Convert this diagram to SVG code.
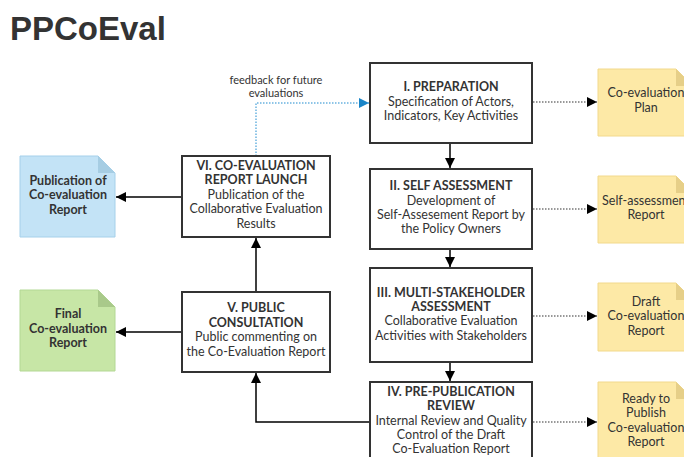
<svg xmlns="http://www.w3.org/2000/svg" width="684" height="457" viewBox="0 0 684 457">
<style>
.box{fill:#fff;stroke:#333;stroke-width:2}
.t{font-family:Lato,"Liberation Sans",sans-serif;font-size:12.5px;fill:#333;text-anchor:middle}
.b{font-weight:bold}
.ln{stroke:#000;stroke-width:1.5;fill:none}
.dt{stroke:#333;stroke-width:1.2;fill:none;stroke-dasharray:1.5 1.5}
.fb{stroke:#69b3e0;stroke-width:1.5;fill:none;stroke-dasharray:1.5 1.5}
.yd{fill:#fde9a6;stroke:#f2d98c;stroke-width:1}
.yf{fill:#e6cf88}
</style>
<defs>
<marker id="ah" viewBox="0 0 10 10" refX="10" refY="5" markerWidth="10" markerHeight="10" markerUnits="userSpaceOnUse" orient="auto"><path d="M0,0 L10,5 L0,10 z" fill="#000"/></marker>
<marker id="ahb" viewBox="0 0 10 10" refX="10" refY="5" markerWidth="10" markerHeight="10" markerUnits="userSpaceOnUse" orient="auto"><path d="M0,0 L10,5 L0,10 z" fill="#1a85c8"/></marker>
</defs>
<text x="10" y="40" font-family="'Liberation Sans',Arial,sans-serif" font-size="33" font-weight="bold" fill="#333">PPCoEval</text>

<g id="connectors">
<line class="ln" x1="450" y1="143" x2="450" y2="168" marker-end="url(#ah)"/>
<line class="ln" x1="450" y1="249" x2="450" y2="267" marker-end="url(#ah)"/>
<line class="ln" x1="450" y1="362" x2="450" y2="381" marker-end="url(#ah)"/>
<polyline class="ln" points="370,422 256,422 256,373" marker-end="url(#ah)"/>
<line class="ln" x1="256" y1="292" x2="256" y2="238" marker-end="url(#ah)"/>
<line class="ln" x1="182" y1="197" x2="116" y2="197" marker-end="url(#ah)"/>
<line class="ln" x1="182" y1="332" x2="116" y2="332" marker-end="url(#ah)"/>
<polyline class="fb" points="256,156 256,103 369,103" marker-end="url(#ahb)"/>
<line class="dt" x1="533" y1="102" x2="597" y2="102" marker-end="url(#ah)"/>
<line class="dt" x1="533" y1="209" x2="597" y2="209" marker-end="url(#ah)"/>
<line class="dt" x1="533" y1="316" x2="597" y2="316" marker-end="url(#ah)"/>
<line class="dt" x1="533" y1="422" x2="597" y2="422" marker-end="url(#ah)"/>
<text class="t" x="276" y="84" style="font-size:11px">feedback for future</text>
<text class="t" x="276" y="97" style="font-size:11px">evaluations</text>
</g>

<g id="n1">
<rect class="box" x="370" y="63" width="162" height="80"/>
<text class="t b" x="451" y="91">I. PREPARATION</text>
<text class="t" x="451" y="106">Specification of Actors,</text>
<text class="t" x="451" y="120">Indicators, Key Activities</text>
</g>
<g id="n2">
<rect class="box" x="370" y="169" width="162" height="80"/>
<text class="t b" x="451" y="190">II. SELF ASSESSMENT</text>
<text class="t" x="451" y="205">Development of</text>
<text class="t" x="451" y="219">Self-Assesement Report by</text>
<text class="t" x="451" y="233">the Policy Owners</text>
</g>
<g id="n3">
<rect class="box" x="370" y="268" width="162" height="94"/>
<text class="t b" x="451" y="297">III. MULTI-STAKEHOLDER</text>
<text class="t b" x="451" y="311">ASSESSMENT</text>
<text class="t" x="451" y="325">Collaborative Evaluation</text>
<text class="t" x="451" y="340">Activities with Stakeholders</text>
</g>
<g id="n4">
<rect class="box" x="370" y="382" width="162" height="90"/>
<text class="t b" x="451" y="396">IV. PRE-PUBLICATION</text>
<text class="t b" x="451" y="410">REVIEW</text>
<text class="t" x="451" y="425">Internal Review and Quality</text>
<text class="t" x="451" y="439">Control of the Draft</text>
<text class="t" x="451" y="453">Co-Evaluation Report</text>
</g>
<g id="n5">
<rect class="box" x="182" y="292" width="148" height="80"/>
<text class="t b" x="256" y="312">V. PUBLIC</text>
<text class="t b" x="256" y="327">CONSULTATION</text>
<text class="t" x="256" y="341">Public commenting on</text>
<text class="t" x="256" y="356">the Co-Evaluation Report</text>
</g>
<g id="n6">
<rect class="box" x="182" y="156" width="148" height="81"/>
<text class="t b" x="256" y="170">VI. CO-EVALUATION</text>
<text class="t b" x="256" y="184">REPORT LAUNCH</text>
<text class="t" x="256" y="199">Publication of the</text>
<text class="t" x="256" y="213">Collaborative Evaluation</text>
<text class="t" x="256" y="228">Results</text>
</g>

<g id="d_pub">
<path d="M20,156 H98 L115,173 V237 H20 Z" fill="#c3e3f6" stroke="#a5d0ea" stroke-width="1"/>
<path d="M98,156 L115,173 H98 Z" fill="#a6cde3"/>
<text class="t b" x="68" y="185">Publication of</text>
<text class="t b" x="68" y="199">Co-evaluation</text>
<text class="t b" x="68" y="214">Report</text>
</g>
<g id="d_final">
<path d="M20,290 H98 L115,307 V371 H20 Z" fill="#c7e6a6" stroke="#b3d894" stroke-width="1"/>
<path d="M98,290 L115,307 H98 Z" fill="#a9c98a"/>
<text class="t b" x="68" y="318">Final</text>
<text class="t b" x="68" y="333">Co-evaluation</text>
<text class="t b" x="68" y="347">Report</text>
</g>
<g id="d_plan">
<path class="yd" d="M598,69 H676 L693,86 V136 H598 Z"/>
<path class="yf" d="M676,69 L693,86 H676 Z"/>
<text class="t" x="646" y="97">Co-evaluation</text>
<text class="t" x="646" y="112">Plan</text>
</g>
<g id="d_self">
<path class="yd" d="M598,176 H676 L693,193 V243 H598 Z"/>
<path class="yf" d="M676,176 L693,193 H676 Z"/>
<text class="t" x="646" y="205">Self-assessment</text>
<text class="t" x="646" y="219">Report</text>
</g>
<g id="d_draft">
<path class="yd" d="M598,283 H676 L693,300 V351 H598 Z"/>
<path class="yf" d="M676,283 L693,300 H676 Z"/>
<text class="t" x="646" y="306">Draft</text>
<text class="t" x="646" y="320">Co-evaluation</text>
<text class="t" x="646" y="335">Report</text>
</g>
<g id="d_ready">
<path class="yd" d="M598,382 H676 L693,399 V470 H598 Z"/>
<path class="yf" d="M676,382 L693,399 H676 Z"/>
<text class="t" x="646" y="403">Ready to</text>
<text class="t" x="646" y="417">Publish</text>
<text class="t" x="646" y="432">Co-evaluation</text>
<text class="t" x="646" y="446">Report</text>
</g>
</svg>
